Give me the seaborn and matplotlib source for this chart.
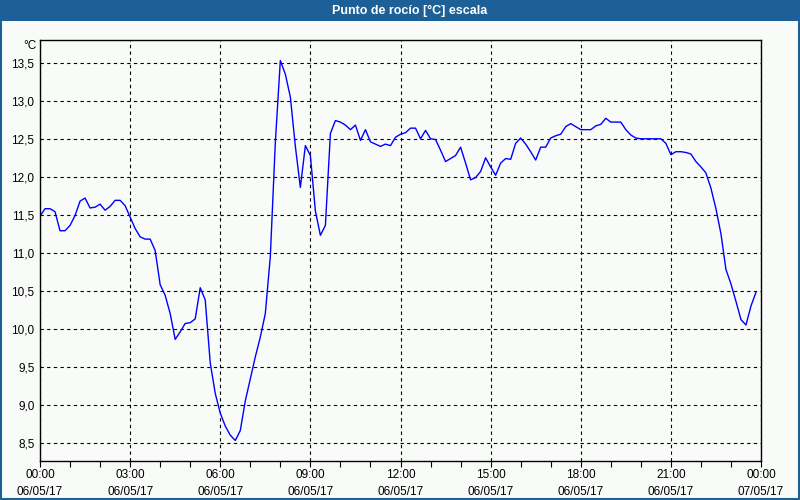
import matplotlib
matplotlib.use("Agg")
import matplotlib.pyplot as plt
import matplotlib.dates as mdates
from matplotlib.patches import Rectangle
from matplotlib.ticker import FuncFormatter, FixedLocator
import seaborn as sns
import pandas as pd

title = "Punto de rocío [°C] escala"
unit_label = "°C"
start = "2017-05-06 00:00"
end = "2017-05-07 00:00"
step = "10min"

# dew point readings, one every 10 minutes (6 per hour)
values = [
    11.48, 11.58, 11.58, 11.54, 11.29, 11.29,   # 00
    11.36, 11.49, 11.68, 11.72, 11.59, 11.60,   # 01
    11.64, 11.56, 11.61, 11.69, 11.69, 11.62,   # 02
    11.47, 11.32, 11.21, 11.18, 11.18, 11.03,   # 03
    10.58, 10.44, 10.20, 9.86, 9.96, 10.07,     # 04
    10.08, 10.13, 10.54, 10.38, 9.55, 9.15,     # 05
    8.89, 8.72, 8.60, 8.53, 8.66, 9.05,         # 06
    9.34, 9.63, 9.89, 10.20, 10.95, 12.45,      # 07
    13.53, 13.35, 13.05, 12.40, 11.86, 12.41,   # 08
    12.28, 11.55, 11.23, 11.36, 12.57, 12.74,   # 09
    12.72, 12.68, 12.62, 12.68, 12.48, 12.62,   # 10
    12.46, 12.43, 12.40, 12.43, 12.41, 12.52,   # 11
    12.56, 12.58, 12.64, 12.64, 12.50, 12.61,   # 12
    12.50, 12.49, 12.35, 12.20, 12.24, 12.28,   # 13
    12.39, 12.18, 11.96, 11.99, 12.07, 12.25,   # 14
    12.13, 12.02, 12.18, 12.24, 12.23, 12.44,   # 15
    12.51, 12.43, 12.33, 12.22, 12.39, 12.39,   # 16
    12.51, 12.54, 12.56, 12.66, 12.70, 12.66,   # 17
    12.62, 12.62, 12.62, 12.67, 12.69, 12.77,   # 18
    12.72, 12.72, 12.72, 12.62, 12.55, 12.51,   # 19
    12.50, 12.50, 12.50, 12.50, 12.50, 12.44,   # 20
    12.29, 12.33, 12.33, 12.32, 12.30, 12.20,   # 21
    12.13, 12.05, 11.85, 11.58, 11.25, 10.78,   # 22
    10.59, 10.36, 10.12, 10.05, 10.30, 10.48,   # 23
]
y_ticks = [8.5, 9.0, 9.5, 10.0, 10.5, 11.0, 11.5, 12.0, 12.5, 13.0, 13.5]

times = pd.date_range(start, periods=len(values), freq=step)
df = pd.DataFrame({"time": times, "value": values})

sns.set_theme(style="white")
plt.rcParams["font.family"] = ["Liberation Sans", "DejaVu Sans"]
plt.rcParams["lines.scale_dashes"] = False

bg = "#f9fbf9"
bar_col = "#1d5f97"

fig = plt.figure(figsize=(8, 5), dpi=100, facecolor=bg)
ax = fig.add_axes([40 / 800, 1 - 461 / 500, 721 / 800, 421 / 500])
ax.set_facecolor(bg)

sns.lineplot(data=df, x="time", y="value", ax=ax, color="#0000ff", linewidth=1.0)

ax.set_xlim(pd.Timestamp(start), pd.Timestamp(end))
ax.set_ylim(8.26, 13.80)
ax.yaxis.set_major_locator(FixedLocator(y_ticks))
ax.yaxis.set_major_formatter(FuncFormatter(lambda v, p: f"{v:.1f}".replace(".", ",")))
ax.xaxis.set_major_locator(mdates.HourLocator(byhour=range(0, 24, 3)))
ax.xaxis.set_minor_locator(mdates.HourLocator())
ax.xaxis.set_major_formatter(mdates.DateFormatter("%H:%M\n%d/%m/%y"))

ax.set_xlabel("")
ax.set_ylabel("")
ax.grid(True, which="major", color="black", linewidth=0.8, linestyle=(0, (2.4, 2.4)))
for s in ax.spines.values():
    s.set_color("black")
    s.set_linewidth(1.0)

ax.tick_params(axis="y", length=0, pad=4, labelsize=8.5, colors="black")
ax.tick_params(axis="x", which="both", length=4, width=0.8, direction="out",
               color="black", bottom=True, labelsize=8.5, pad=1.5, labelcolor="black")
for lbl in ax.get_xticklabels():
    lbl.set_linespacing(1.55)

fig.text(36 / 800, 1 - 46 / 500, unit_label, ha="right", va="center", fontsize=8.5, color="black")

# title bar and frame
fig.patches.append(Rectangle((0, 1 - 21 / 500), 1, 21 / 500, transform=fig.transFigure,
                             facecolor=bar_col, edgecolor="none", zorder=0))
fig.patches.append(Rectangle((0.001, 0.002), 0.998, 0.996, transform=fig.transFigure,
                             facecolor="none", edgecolor=bar_col, linewidth=1.5, zorder=1))
fig.text(0.512, 1 - 10.5 / 500, title, ha="center", va="center", color="white",
         fontsize=9, fontweight="bold")

fig.savefig("out.png", dpi=100, facecolor=bg)
